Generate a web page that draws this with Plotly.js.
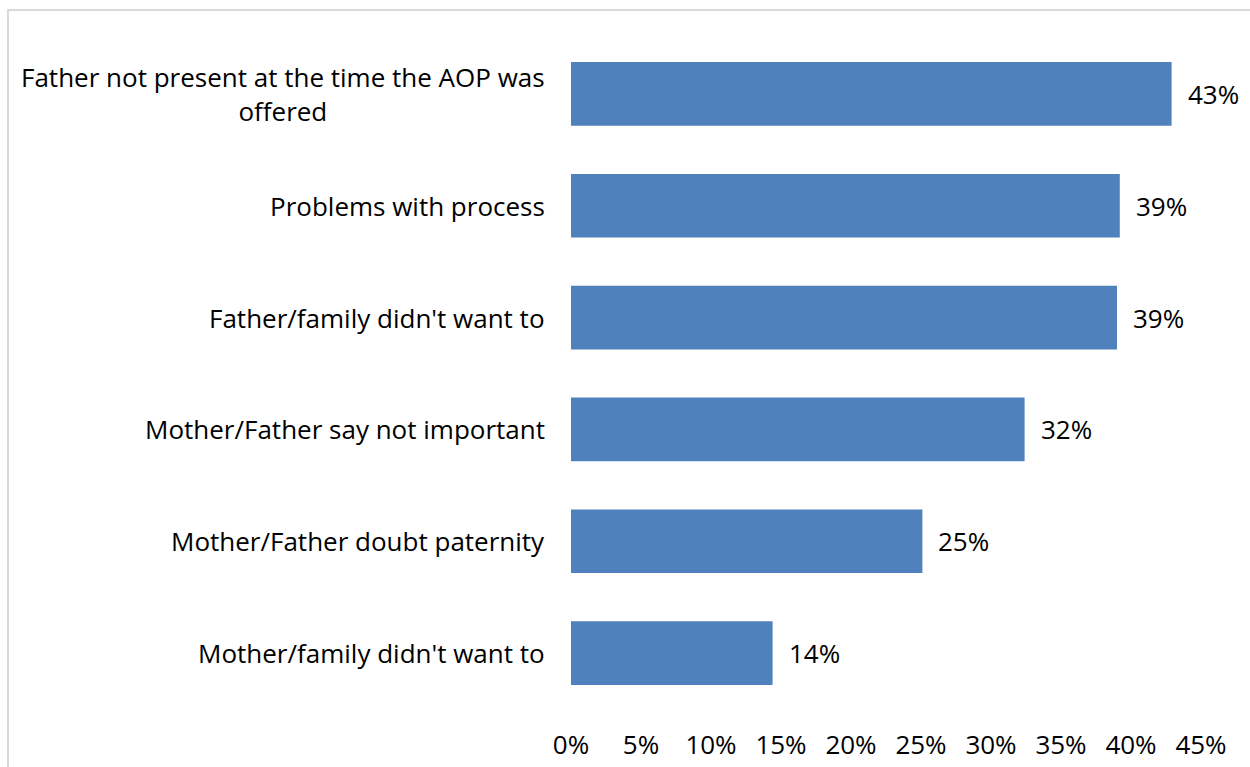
<!DOCTYPE html>
<html>
<head>
<meta charset="utf-8">
<script src="https://cdn.plot.ly/plotly-3.0.1.min.js"></script>
<style>
html,body{margin:0;padding:0;background:#fff;}
#chart{width:1250px;height:767px;}
</style>
</head>
<body>
<div id="chart"></div>
<script>
const categories = [
  "Father not present at the time the AOP was<br>offered",
  "Problems with process",
  "Father/family didn't want to",
  "Mother/Father say not important",
  "Mother/Father doubt paternity",
  "Mother/family didn't want to"
];
const values = [42.9, 39.2, 39.0, 32.4, 25.1, 14.4];
const valueLabels = ["43%", "39%", "39%", "32%", "25%", "14%"];
const tickVals = [0, 5, 10, 15, 20, 25, 30, 35, 40, 45];
const tickText = ["0%", "5%", "10%", "15%", "20%", "25%", "30%", "35%", "40%", "45%"];

const FONT = "'Open Sans', sans-serif";
const FS = 26;
const W = 1250, H = 767;
const L = 571, R = 49, T = 38, B = 58;
const pw = W - L - R, ph = H - T - B;

const trace = {
  type: "bar",
  orientation: "h",
  y: categories,
  x: values,
  marker: {color: "#4F81BD"},
  hoverinfo: "none"
};

const annotations = [];
categories.forEach((c, i) => {
  annotations.push({
    xref: "paper", yref: "y", x: 0, y: c,
    xanchor: "right", yanchor: "middle", xshift: -24,
    text: c, align: "center", showarrow: false,
    font: {family: FONT, size: FS, color: "#000"}
  });
  annotations.push({
    xref: "x", yref: "y", x: values[i], y: c,
    xanchor: "left", yanchor: "middle", xshift: 14,
    text: valueLabels[i], showarrow: false,
    font: {family: FONT, size: FS, color: "#000"}
  });
});

const layout = {
  width: W, height: H,
  margin: {l: L, r: R, t: T, b: B, pad: 0},
  paper_bgcolor: "#fff", plot_bgcolor: "#fff",
  showlegend: false,
  bargap: 0.43,
  xaxis: {
    range: [0, 45], tickvals: tickVals, ticktext: tickText,
    showgrid: false, zeroline: false, showline: false,
    ticks: "", ticklabelstandoff: 18,
    tickfont: {family: FONT, size: FS, color: "#000"},
    fixedrange: true
  },
  yaxis: {
    autorange: "reversed", showticklabels: false,
    showgrid: false, zeroline: false, showline: false, ticks: "",
    fixedrange: true
  },
  annotations: annotations,
  shapes: [{
    type: "rect", xref: "paper", yref: "paper",
    x0: (8 - L) / pw, x1: 1.3,
    y0: -0.3, y1: 1 + (T - 10) / ph,
    line: {color: "#D9D9D9", width: 2}, fillcolor: "rgba(0,0,0,0)"
  }]
};

Plotly.newPlot("chart", [trace], layout, {displayModeBar: false, staticPlot: true});
</script>
</body>
</html>
